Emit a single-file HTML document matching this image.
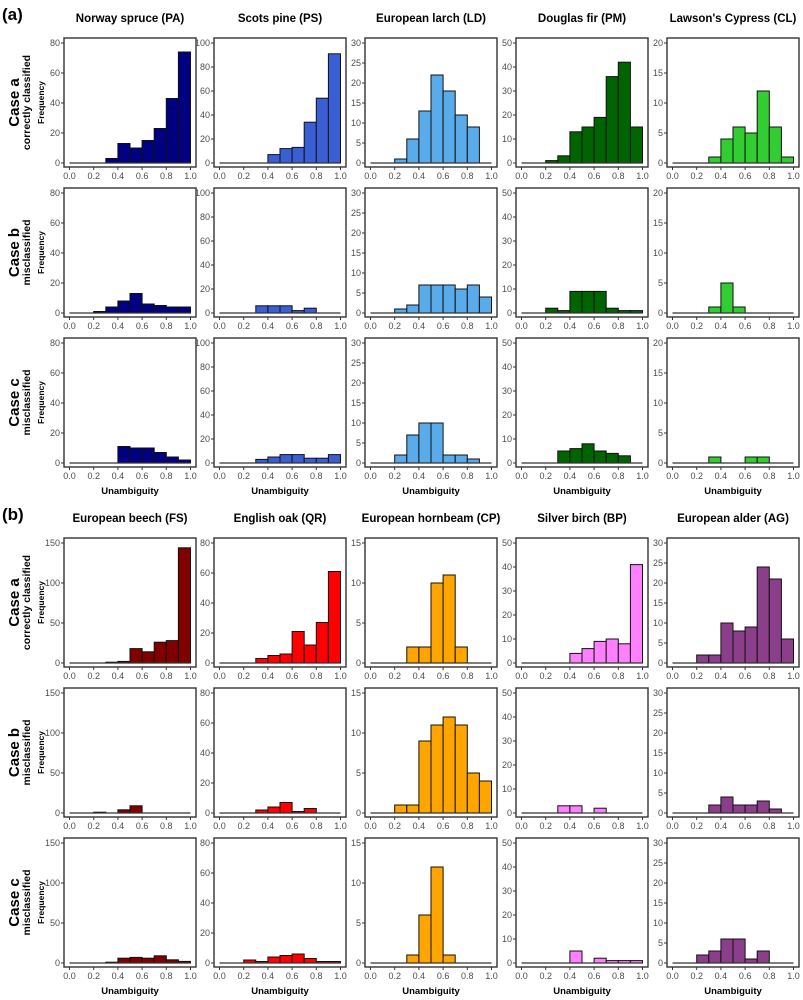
<!DOCTYPE html>
<html><head><meta charset="utf-8"><style>
body{margin:0;background:#fff;}
svg{display:block;font-family:"Liberation Sans",sans-serif;}
</style></head><body>
<svg id="chart" width="803" height="1000" viewBox="0 0 803 1000"></svg>
<script>
// bin labels (lower edges of 0.1-wide bins)
const bins = [0.0,0.1,0.2,0.3,0.4,0.5,0.6,0.7,0.8,0.9];
const xTicks = [0.0,0.2,0.4,0.6,0.8,1.0];
const xTickLabels = ["0.0","0.2","0.4","0.6","0.8","1.0"];
// section (a) conifers
const paA=[0,0,0,3,13,10,15,23,43,74];
const paB=[0,0,1,4,8,13,6,5,4,4];
const paC=[0,0,0,0,11,10,10,7,4,2];
const psA=[0,0,0,0,7,12,13,34,54,91];
const psB=[0,0,0,6,6,6,2,4,0,0];
const psC=[0,0,0,3,5,7,7,4,4,7];
const ldA=[0,0,1,6,13,22,18,12,9,0];
const ldB=[0,0,1,2,7,7,7,6,7,4];
const ldC=[0,0,2,7,10,10,2,2,1,0];
const pmA=[0,0,1,3,13,15,19,36,42,15];
const pmB=[0,0,2,1,9,9,9,2,1,1];
const pmC=[0,0,0,5,6,8,5,4,3,0];
const clA=[0,0,0,1,4,6,5,12,6,1];
const clB=[0,0,0,1,5,1,0,0,0,0];
const clC=[0,0,0,1,0,0,1,1,0,0];
// section (b) broadleaves
const fsA=[0,0,0,1,2,18,14,26,28,144];
const fsB=[0,0,1,0,4,9,0,0,0,0];
const fsC=[0,0,0,1,6,7,6,9,4,2];
const qrA=[0,0,0,3,5,6,21,12,27,61];
const qrB=[0,0,0,2,4,7,1,3,0,0];
const qrC=[0,0,2,1,4,5,6,3,1,1];
const cpA=[0,0,0,2,2,10,11,2,0,0];
const cpB=[0,0,1,1,9,11,12,11,5,4];
const cpC=[0,0,0,1,6,12,1,0,0,0];
const bpA=[0,0,0,0,4,6,9,10,8,41];
const bpB=[0,0,0,3,3,0,2,0,0,0];
const bpC=[0,0,0,0,5,0,2,1,1,1];
const agA=[0,0,2,2,10,8,9,24,21,6];
const agB=[0,0,0,2,4,2,2,3,1,0];
const agC=[0,0,2,3,6,6,1,3,0,0];
// y tick values per species
const paTicks=[0,20,40,60,80], psTicks=[0,20,40,60,80,100], ldTicks=[0,5,10,15,20,25,30], pmTicks=[0,10,20,30,40,50], clTicks=[0,5,10,15,20];
const fsTicks=[0,50,100,150], qrTicks=[0,20,40,60,80], cpTicks=[0,5,10,15], bpTicks=[0,10,20,30,40,50], agTicks=[0,5,10,15,20,25,30];

const species=[
 {sec:0,col:0,title:"Norway spruce (PA)",color:"#000080",ticks:paTicks,rows:[paA,paB,paC],key:"pa"},
 {sec:0,col:1,title:"Scots pine (PS)",color:"#3a5fd4",ticks:psTicks,rows:[psA,psB,psC],key:"ps"},
 {sec:0,col:2,title:"European larch (LD)",color:"#5aabea",ticks:ldTicks,rows:[ldA,ldB,ldC],key:"ld"},
 {sec:0,col:3,title:"Douglas fir (PM)",color:"#006400",ticks:pmTicks,rows:[pmA,pmB,pmC],key:"pm"},
 {sec:0,col:4,title:"Lawson's Cypress (CL)",color:"#32cd32",ticks:clTicks,rows:[clA,clB,clC],key:"cl"},
 {sec:1,col:0,title:"European beech (FS)",color:"#800000",ticks:fsTicks,rows:[fsA,fsB,fsC],key:"fs"},
 {sec:1,col:1,title:"English oak (QR)",color:"#ff0000",ticks:qrTicks,rows:[qrA,qrB,qrC],key:"qr"},
 {sec:1,col:2,title:"European hornbeam (CP)",color:"#ffa500",ticks:cpTicks,rows:[cpA,cpB,cpC],key:"cp"},
 {sec:1,col:3,title:"Silver birch (BP)",color:"#ff80ff",ticks:bpTicks,rows:[bpA,bpB,bpC],key:"bp"},
 {sec:1,col:4,title:"European alder (AG)",color:"#8b3f8b",ticks:agTicks,rows:[agA,agB,agC],key:"ag"}
];
const colLeft=[64,214,365,516,667];
const secTops=[[38,188,338],[538,688,838]];
const rowCases=[["Case a","correctly classified"],["Case b","misclassified"],["Case c","misclassified"]];
const W=132,H=129;
const NS="http://www.w3.org/2000/svg";
const svg=document.getElementById('chart');
function mk(tag,attrs,parent,text){const e=document.createElementNS(NS,tag);for(const k in attrs)e.setAttribute(k,attrs[k]);if(text!==undefined)e.textContent=text;(parent||svg).appendChild(e);return e;}

// section labels
["(a)","(b)"].forEach((s,i)=>{
 const t=mk('text',{x:2,y:i?520:20,'font-size':17,'font-weight':'bold',fill:'#000'},svg,s);
 
 
});
// row labels
secTops.forEach((tops,si)=>tops.forEach((top,ri)=>{
 const cy=top+H/2;
 const g=mk('g',{});
 
 
 mk('text',{x:0,y:0,transform:`translate(19,${cy}) rotate(-90)`,'text-anchor':'middle','font-size':15,'font-weight':'bold',fill:'#000'},g,rowCases[ri][0]);
 mk('text',{x:0,y:0,transform:`translate(30,${cy}) rotate(-90)`,'text-anchor':'middle','font-size':10.5,'font-weight':'bold',fill:'#000'},g,rowCases[ri][1]);
 mk('text',{x:0,y:0,transform:`translate(44,${cy}) rotate(-90)`,'text-anchor':'middle','font-size':8.5,'font-weight':'bold',fill:'#000'},g,'Frequency');
}));

species.forEach(sp=>{
 const left=colLeft[sp.col];
 const tops=secTops[sp.sec];
 const tt=mk('text',{x:left+W/2,y:sp.sec?522:22,'text-anchor':'middle','font-size':11.5,'font-weight':'bold',fill:'#000'},svg,sp.title);
 
 
 const ymax=sp.ticks[sp.ticks.length-1];
 sp.rows.forEach((vals,ri)=>{
  const top=tops[ri];
  const g=mk('g',{});
  
  
  const xs=v=>left+5.5+v*(W-11);
  const ys=v=>top+H-4-v*(H-9)/ymax;
  const fr=mk('rect',{x:left,y:top,width:W,height:H,fill:'#fff',stroke:'#333',"stroke-width":1.4},g);
  
  
  vals.forEach((v,i)=>{
   if(v<=0)return;
   const b=mk('rect',{x:xs(bins[i]),y:ys(v),width:xs(bins[i]+0.1)-xs(bins[i]),height:ys(0)-ys(v),fill:sp.color,stroke:'#111','stroke-width':1},g);
   
   
  });
  const bl=mk('line',{x1:xs(0),x2:xs(1),y1:ys(0),y2:ys(0),stroke:'#333','stroke-width':1.3},g);
  
  
  sp.ticks.forEach(t=>{
   mk('line',{x1:left-3,x2:left,y1:ys(t),y2:ys(t),stroke:'#333','stroke-width':1},g);
   const lb=mk('text',{x:left-4,y:ys(t)+3,'text-anchor':'end','font-size':9,fill:'#4d4d4d'},g,String(t));
   
   
  });
  xTicks.forEach((t,i)=>{
   mk('line',{x1:xs(t),x2:xs(t),y1:top+H,y2:top+H+3,stroke:'#333','stroke-width':1},g);
   const lb=mk('text',{x:xs(t),y:top+H+12,'text-anchor':'middle','font-size':9,fill:'#4d4d4d'},g,xTickLabels[i]);
   
   
  });
  if(ri===2){
   const xl=mk('text',{x:left+W/2,y:top+H+27,'text-anchor':'middle','font-size':9.5,'font-weight':'bold',fill:'#000'},g,'Unambiguity');
   
   
  }
 });
});
</script>
</body></html>
